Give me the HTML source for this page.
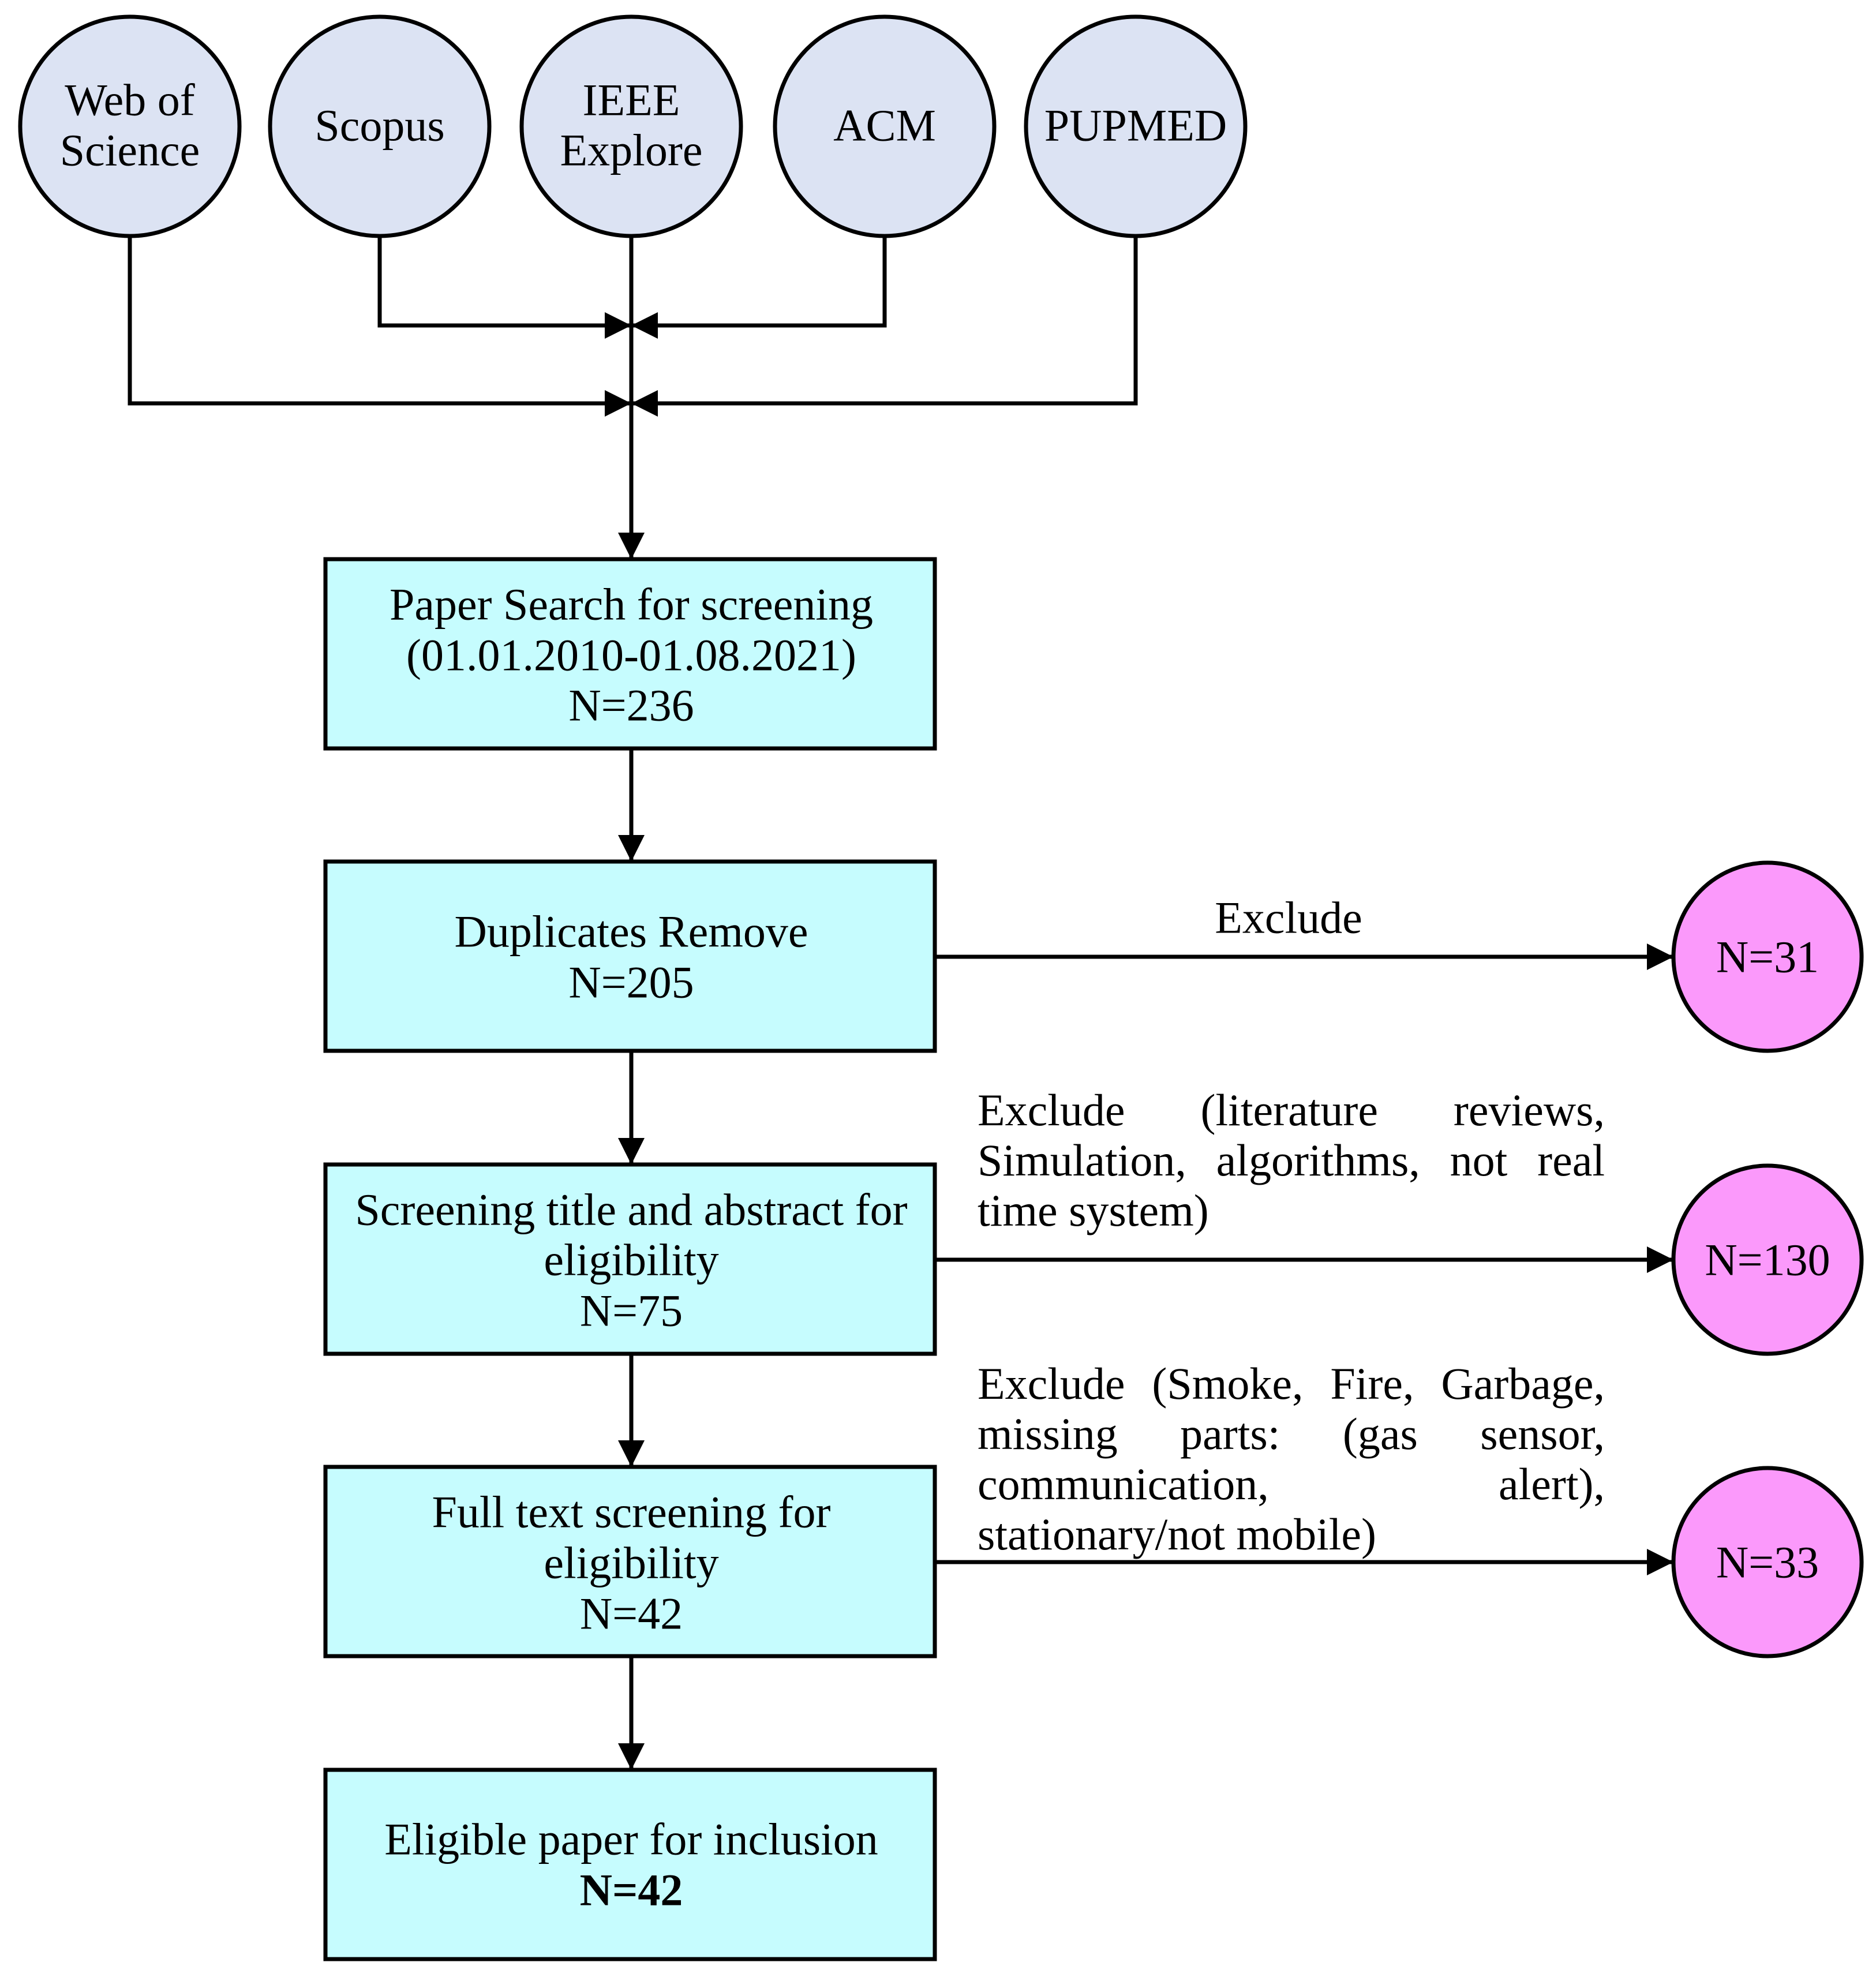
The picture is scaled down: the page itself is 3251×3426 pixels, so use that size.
<!DOCTYPE html>
<html><head><meta charset="utf-8"><style>
html,body{margin:0;padding:0;background:#fff}
#w{position:relative;width:3251px;height:3426px;overflow:hidden}
svg{position:absolute;left:0;top:0}
text{font-family:"Liberation Serif",serif;font-size:78px;fill:#000}
.p{position:absolute;left:1694px;width:1087px;font-family:"Liberation Serif",serif;font-size:78px;line-height:87px;text-align:justify;text-align-last:left;color:#000}
</style></head><body><div id="w">
<svg width="3251" height="3426" viewBox="0 0 3251 3426">
<defs>
<marker id="b" viewBox="0 0 10 10" refX="10" refY="5" markerWidth="46" markerHeight="46" orient="auto" markerUnits="userSpaceOnUse"><path d="M0,0 L10,5 L0,10z" fill="#000"/></marker></defs>
<g stroke="#000" stroke-width="7" fill="none">
<path d="M225,409 V699 H1094" marker-end="url(#b)"/>
<path d="M1968,409 V699 H1094" marker-end="url(#b)"/>
<path d="M658,409 V564 H1094" marker-end="url(#b)"/>
<path d="M1533,409 V564 H1094" marker-end="url(#b)"/>
<path d="M1094,409 V969" marker-end="url(#b)"/>
<path d="M1094,1297 V1493" marker-end="url(#b)"/>
<path d="M1094,1821 V2018" marker-end="url(#b)"/>
<path d="M1094,2346 V2542" marker-end="url(#b)"/>
<path d="M1094,2871 V3067" marker-end="url(#b)"/>
<path d="M1620,1658 H2900" marker-end="url(#b)"/>
<path d="M1620,2183 H2900" marker-end="url(#b)"/>
<path d="M1620,2707 H2900" marker-end="url(#b)"/>
</g>
<g stroke="#000" stroke-width="7" fill="#dce3f3">
<circle cx="225" cy="219" r="190"/><circle cx="658" cy="219" r="190"/><circle cx="1094" cy="219" r="190"/><circle cx="1533" cy="219" r="190"/><circle cx="1968" cy="219" r="190"/>
</g>
<g stroke="#000" stroke-width="7" fill="#c6fcfe">
<rect x="564" y="969" width="1056" height="328"/>
<rect x="564" y="1493" width="1056" height="328"/>
<rect x="564" y="2018" width="1056" height="328"/>
<rect x="564" y="2542" width="1056" height="328"/>
<rect x="564" y="3067" width="1056" height="328"/>
</g>
<g stroke="#000" stroke-width="7" fill="#fb99fb">
<circle cx="3063" cy="1658" r="163"/><circle cx="3063" cy="2183" r="163"/><circle cx="3063" cy="2707" r="163"/>
</g>
<g text-anchor="middle" dominant-baseline="central">
<text x="225" y="173">Web of</text><text x="225" y="260">Science</text>
<text x="658" y="217">Scopus</text>
<text x="1094" y="173">IEEE</text><text x="1094" y="260">Explore</text>
<text x="1533" y="217">ACM</text>
<text x="1968" y="217">PUPMED</text>
<text x="1094" y="1047">Paper Search for screening</text>
<text x="1094" y="1135">(01.01.2010-01.08.2021)</text>
<text x="1094" y="1222">N=236</text>
<text x="1094" y="1614">Duplicates Remove</text>
<text x="1094" y="1702">N=205</text>
<text x="1094" y="2096">Screening title and abstract for</text>
<text x="1094" y="2183">eligibility</text>
<text x="1094" y="2271">N=75</text>
<text x="1094" y="2620">Full text screening for</text>
<text x="1094" y="2708">eligibility</text>
<text x="1094" y="2796">N=42</text>
<text x="1094" y="3187">Eligible paper for inclusion</text>
<text x="1094" y="3275" font-weight="bold">N=42</text>
<text x="2233" y="1590">Exclude</text>
<text x="3063" y="1658">N=31</text>
<text x="3063" y="2183">N=130</text>
<text x="3063" y="2707">N=33</text>
</g>
</svg>
<div class="p" style="top:1880px">Exclude (literature reviews, Simulation, algorithms, not real time system)</div>
<div class="p" style="top:2354px">Exclude (Smoke, Fire, Garbage, missing parts: (gas sensor, communication, alert), stationary/not mobile)</div>
</div></body></html>
